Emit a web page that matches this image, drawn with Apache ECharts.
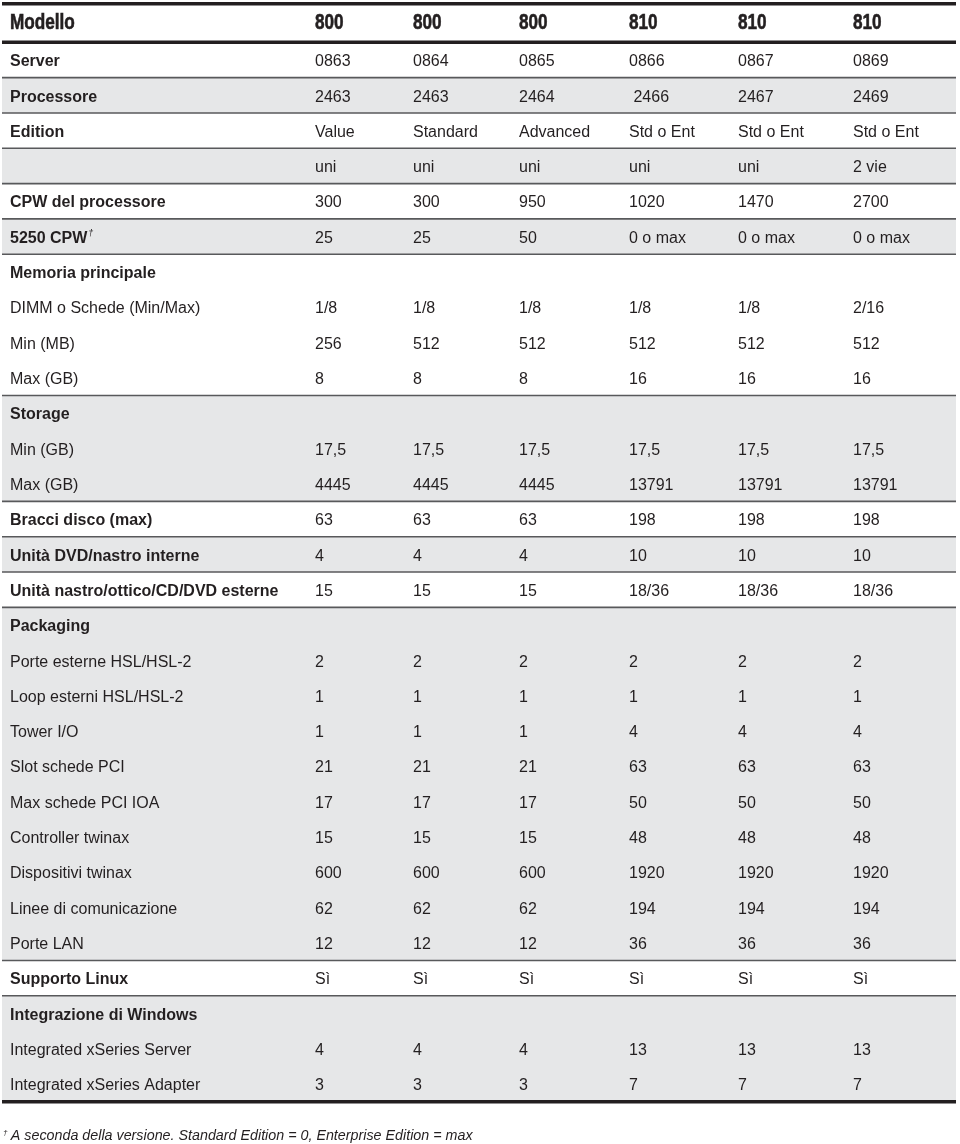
<!DOCTYPE html>
<html><head><meta charset="utf-8">
<script src="https://cdn.jsdelivr.net/npm/echarts@6/dist/echarts.min.js"></script>
<style>html,body{margin:0;padding:0;background:#fff}#c{width:960px;height:1144px}</style>
</head><body><div id="c"></div>
<script>
// ---- data ----
const models = ['800', '800', '800', '810', '810', '810'];
const headerTitle = 'Modello';
const rowLabels = ['Server', 'Processore', 'Edition', '', 'CPW del processore', '5250 CPW',
  'Memoria principale', 'DIMM o Schede (Min/Max)', 'Min (MB)', 'Max (GB)',
  'Storage', 'Min (GB)', 'Max (GB)', 'Bracci disco (max)', 'Unità DVD/nastro interne',
  'Unità nastro/ottico/CD/DVD esterne', 'Packaging', 'Porte esterne HSL/HSL-2',
  'Loop esterni HSL/HSL-2', 'Tower I/O', 'Slot schede PCI', 'Max schede PCI IOA',
  'Controller twinax', 'Dispositivi twinax', 'Linee di comunicazione', 'Porte LAN',
  'Supporto Linux', 'Integrazione di Windows', 'Integrated xSeries Server', 'Integrated xSeries Adapter'];
const boldRows = [0, 1, 2, 4, 5, 6, 10, 13, 14, 15, 16, 26, 27];
const footnoteRows = [5];
const rowValues = [
  ['0863', '0864', '0865', '0866', '0867', '0869'],
  ['2463', '2463', '2464', ' 2466', '2467', '2469'],
  ['Value', 'Standard', 'Advanced', 'Std o Ent', 'Std o Ent', 'Std o Ent'],
  ['uni', 'uni', 'uni', 'uni', 'uni', '2 vie'],
  ['300', '300', '950', '1020', '1470', '2700'],
  ['25', '25', '50', '0 o max', '0 o max', '0 o max'],
  null,
  ['1/8', '1/8', '1/8', '1/8', '1/8', '2/16'],
  ['256', '512', '512', '512', '512', '512'],
  ['8', '8', '8', '16', '16', '16'],
  null,
  ['17,5', '17,5', '17,5', '17,5', '17,5', '17,5'],
  ['4445', '4445', '4445', '13791', '13791', '13791'],
  ['63', '63', '63', '198', '198', '198'],
  ['4', '4', '4', '10', '10', '10'],
  ['15', '15', '15', '18/36', '18/36', '18/36'],
  null,
  ['2', '2', '2', '2', '2', '2'],
  ['1', '1', '1', '1', '1', '1'],
  ['1', '1', '1', '4', '4', '4'],
  ['21', '21', '21', '63', '63', '63'],
  ['17', '17', '17', '50', '50', '50'],
  ['15', '15', '15', '48', '48', '48'],
  ['600', '600', '600', '1920', '1920', '1920'],
  ['62', '62', '62', '194', '194', '194'],
  ['12', '12', '12', '36', '36', '36'],
  ['Sì', 'Sì', 'Sì', 'Sì', 'Sì', 'Sì'],
  null,
  ['4', '4', '4', '13', '13', '13'],
  ['3', '3', '3', '7', '7', '7']
];
// row groups [firstRow, lastRow]
const groups = [[0,0],[1,1],[2,2],[3,3],[4,4],[5,5],[6,9],[10,12],[13,13],[14,14],[15,15],[16,25],[26,26],[27,29]];
const footnote = 'A seconda della versione. Standard Edition = 0, Enterprise Edition = max';

// ---- layout / style ----
const colX = [315, 413, 519, 629, 738, 853];
const tableL = 2, tableR = 956;
const INK = '#231f20';
const FONT = '"Liberation Sans", Arial, Helvetica, sans-serif';
const TEXT_DY = 1.8;

const bandData = groups.map((g, i) => [g[0], g[1], i % 2]);
const cellData = [];
rowValues.forEach((vals, r) => {
  if (!vals) return;
  vals.forEach((v, c) => cellData.push([c, r, v]));
});

const headFont = 'bold 22px ' + FONT;
const headStyle = t => ({text: t, fill: INK, font: headFont, verticalAlign: 'middle', stroke: INK, lineWidth: 0.6});
const chart = echarts.init(document.getElementById('c'), null, {renderer: 'canvas'});
chart.setOption({
  animation: false,
  grid: {left: 0, top: 42.35, width: 960, height: 1059.35, containLabel: false},
  xAxis: {type: 'value', min: 0, max: 960, show: false},
  yAxis: {
    type: 'category', inverse: true, data: rowLabels,
    axisLine: {show: false}, axisTick: {show: false}, splitLine: {show: false},
    axisLabel: {
      inside: true, interval: 0, margin: 10, hideOverlap: false,
      color: INK, fontFamily: FONT, fontSize: 16,
      formatter: (v, i) => {
        const t = boldRows.includes(i) ? '{b|' + v + '}' : '{n|' + v + '}';
        return footnoteRows.includes(i) ? t + '{sup|†}' : t;
      },
      rich: {
        b: {fontFamily: FONT, fontSize: 16, fontWeight: 'bold', color: INK, padding: [TEXT_DY * 2, 0, 0, 0]},
        n: {fontFamily: FONT, fontSize: 16, color: INK, padding: [TEXT_DY * 2, 0, 0, 0]},
        sup: {fontFamily: FONT, fontSize: 9, fontStyle: 'italic', color: INK, padding: [0, 0, 6, 1]}
      }
    },
    z: 10
  },
  graphic: [
    {type: 'line', shape: {x1: tableL, y1: 3.7, x2: tableR, y2: 3.7}, style: {stroke: INK, lineWidth: 3.5}},
    {type: 'text', x: 10, y: 23, scaleX: 0.78, style: headStyle(headerTitle)},
    ...models.map((m, i) => ({type: 'text', x: colX[i], y: 23, scaleX: 0.78, style: headStyle(m)})),
    {type: 'text', x: 3, y: 1136, style: {
      text: '{sup|†} {t|' + footnote + '}', verticalAlign: 'middle',
      rich: {
        sup: {fontFamily: FONT, fontSize: 8, fontStyle: 'italic', fill: INK, padding: [0, 0, 7, 0]},
        t: {fontFamily: FONT, fontSize: 14.3, fontStyle: 'italic', fill: INK}
      }}}
  ],
  series: [
    {
      type: 'custom', name: 'bands', data: bandData, z: 1, silent: true,
      renderItem: (params, api) => {
        const s = api.value(0), e = api.value(1), shade = api.value(2);
        const bw = api.size([0, 1])[1];
        const p0 = api.coord([tableL, s]); const p1 = api.coord([tableR, e]);
        const y0 = p0[1] - bw / 2, y1 = p1[1] + bw / 2;
        const ch = [];
        if (shade) ch.push({type: 'rect', shape: {x: p0[0], y: y0, width: p1[0] - p0[0], height: y1 - y0}, style: {fill: '#e6e7e8'}});
        const last = params.dataIndex === groups.length - 1;
        if (params.dataIndex === 0) ch.push({type: 'line', z2: 20, shape: {x1: p0[0], y1: y0, x2: p1[0], y2: y0}, style: {stroke: INK, lineWidth: 3.5}});
        ch.push({type: 'line', z2: last ? 20 : 10, shape: {x1: p0[0], y1: y1, x2: p1[0], y2: y1},
          style: last ? {stroke: INK, lineWidth: 3.5} : {stroke: '#58595b', lineWidth: 1.6}});
        return {type: 'group', children: ch};
      }
    },
    {
      type: 'custom', name: 'cells', data: cellData, z: 5, silent: true,
      renderItem: (params, api) => {
        const c = api.value(0), r = api.value(1);
        const p = api.coord([colX[c], r]);
        return {type: 'text', x: p[0], y: p[1] + TEXT_DY, style: {
          text: cellData[params.dataIndex][2], fill: INK,
          font: '16px ' + FONT, verticalAlign: 'middle', align: 'left'}};
      }
    }
  ]
});
</script></body></html>
